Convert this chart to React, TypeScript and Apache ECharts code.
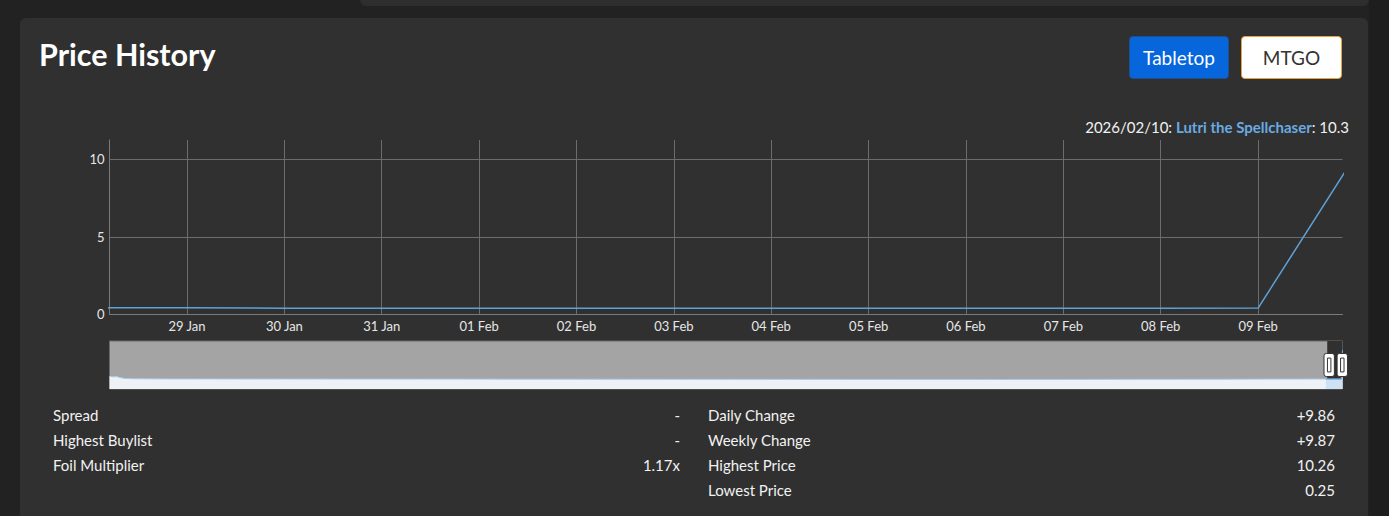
import React, { useEffect, useRef } from 'react';
import * as echarts from 'echarts';

// ---------- data ----------
const cardName = 'Lutri the Spellchaser';
const historyDates = [
  '2023-04-14', '2023-04-17', '2023-04-20', '2023-04-23', '2023-04-27', '2023-05-05',
  '2023-06-01', '2023-08-01', '2023-11-01', '2024-02-01', '2024-05-01', '2024-08-01',
  '2024-11-01', '2025-02-01', '2025-05-01', '2025-08-01', '2025-11-01', '2026-01-01',
];
const historyValues = [
  1.35, 1.15, 1.25, 0.9, 0.6, 0.5,
  0.45, 0.42, 0.4, 0.38, 0.36, 0.33,
  0.3, 0.28, 0.25, 0.3, 0.35, 0.4,
];
const recentDates = [
  '2026-01-27', '2026-01-28', '2026-01-29', '2026-01-30', '2026-01-31', '2026-02-01',
  '2026-02-02', '2026-02-03', '2026-02-04', '2026-02-05', '2026-02-06', '2026-02-07',
  '2026-02-08', '2026-02-09', '2026-02-10',
];
const recentValues = [
  0.42, 0.42, 0.42, 0.39, 0.39, 0.39,
  0.39, 0.39, 0.39, 0.39, 0.39, 0.39,
  0.39, 0.4, 10.26,
];
const windowStart = [2026, 0, 28, 4, 54];
const windowEnd = [2026, 1, 9, 20, 48];
const yTickInterval = 5;
const yMax = 11.25;
const monthNames = ['Jan', 'Feb', 'Mar', 'Apr', 'May', 'Jun', 'Jul', 'Aug', 'Sep', 'Oct', 'Nov', 'Dec'];
const statsLeft: [string, string][] = [
  ['Spread', '-'],
  ['Highest Buylist', '-'],
  ['Foil Multiplier', '1.17x'],
];
const statsRight: [string, string][] = [
  ['Daily Change', '+9.86'],
  ['Weekly Change', '+9.87'],
  ['Highest Price', '10.26'],
  ['Lowest Price', '0.25'],
];
const buttons = ['Tabletop', 'MTGO'];

// ---------- helpers ----------
const toTs = (s: string) => {
  const [y, m, d] = s.split('-').map(Number);
  return new Date(y, m - 1, d).getTime();
};
const pad = (n: number) => (n < 10 ? '0' + n : '' + n);
const FONT = 'Lato, "Noto Sans", sans-serif';

const allPoints = [
  ...historyDates.map((d, i) => [toTs(d), historyValues[i]]),
  ...recentDates.map((d, i) => [toTs(d), recentValues[i]]),
];
const recentPoints = recentDates.map((d, i) => [toTs(d), recentValues[i]]);
const ws = new Date(windowStart[0], windowStart[1], windowStart[2], windowStart[3], windowStart[4]).getTime();
const we = new Date(windowEnd[0], windowEnd[1], windowEnd[2], windowEnd[3], windowEnd[4]).getTime();
const lastDate = new Date(toTs(recentDates[recentDates.length - 1]));
const lastValue = recentValues[recentValues.length - 1];
const legendDate = `${lastDate.getFullYear()}/${pad(lastDate.getMonth() + 1)}/${pad(lastDate.getDate())}`;

const LINE = '#5fa2d8';

function Chart() {
  const ref = useRef<HTMLDivElement>(null);
  useEffect(() => {
    if (!ref.current) return;
    const chart = echarts.init(ref.current, null, { renderer: 'svg' });
    chart.setOption({
      animation: false,
      backgroundColor: 'transparent',
      textStyle: { fontFamily: FONT },
      grid: [
        { left: 109.5, top: 140, width: 1233, height: 174.3, containLabel: false },
        {
          left: 109.5, top: 341, width: 1233, height: 48, show: true,
          backgroundColor: '#a4a4a4', borderColor: '#6a6a6a', borderWidth: 1,
        },
      ],
      xAxis: [
        {
          type: 'time', gridIndex: 0, min: 'dataMin', max: 'dataMax',
          minInterval: 86400000, maxInterval: 86400000,
          axisLine: { show: true, lineStyle: { color: '#7a7a7a', width: 1 } },
          axisTick: { show: false },
          axisLabel: {
            color: '#e6e6e6', fontSize: 13, fontFamily: FONT, margin: 5,
            showMinLabel: false, showMaxLabel: false,
            formatter: (v: number) => {
              const d = new Date(v);
              if (d.getHours() !== 0 || d.getMinutes() !== 0) return '';
              return pad(d.getDate()) + ' ' + monthNames[d.getMonth()];
            },
          },
          splitLine: { show: true, showMinLine: false, showMaxLine: false, lineStyle: { color: '#6c6c6c', width: 1 } },
        },
        {
          type: 'time', gridIndex: 1, min: allPoints[0][0], max: allPoints[allPoints.length - 1][0],
          show: false,
        },
      ],
      yAxis: [
        {
          type: 'value', gridIndex: 0, min: 0, max: yMax, interval: yTickInterval,
          axisLine: { show: true, lineStyle: { color: '#7a7a7a', width: 1 } },
          axisTick: { show: false },
          axisLabel: { color: '#e6e6e6', fontSize: 13, fontFamily: FONT, margin: 5, showMaxLabel: false },
          splitLine: { show: true, showMinLine: false, showMaxLine: false, lineStyle: { color: '#6c6c6c', width: 1 } },
        },
        { type: 'value', gridIndex: 1, min: -3, max: 13.4, show: false },
      ],
      dataZoom: [
        {
          type: 'slider', xAxisIndex: 0, filterMode: 'none',
          startValue: ws, endValue: we,
          left: 109.5, width: 1233, top: 341, height: 48,
          showDataShadow: false, showDetail: false, brushSelect: false,
          backgroundColor: 'rgba(0,0,0,0)', fillerColor: 'rgba(0,0,0,0)', borderColor: 'rgba(0,0,0,0)',
          moveHandleSize: 0, moveHandleStyle: { opacity: 0 },
          handleIcon: 'path://M2,0H7A2,2,0,0,1,9,2V18A2,2,0,0,1,7,20H2A2,2,0,0,1,0,18V2A2,2,0,0,1,2,0Z M3,4H6V16H3Z',
          handleSize: '48%',
          handleStyle: { color: '#ffffff', borderColor: '#333333', borderWidth: 1 },
          emphasis: { handleStyle: { color: '#ffffff', borderColor: '#333333' } },
        },
      ],
      series: [
        {
          type: 'line', xAxisIndex: 0, yAxisIndex: 0, data: allPoints,
          showSymbol: false, symbol: 'none', clip: true,
          lineStyle: { color: LINE, width: 1.5 },
          z: 3,
        },
        {
          type: 'line', xAxisIndex: 1, yAxisIndex: 1, data: allPoints,
          showSymbol: false, symbol: 'none', silent: true,
          lineStyle: { color: '#a9c9e4', width: 1 },
          areaStyle: { color: '#eef2f7', opacity: 1, origin: 'start' },
          markArea: {
            silent: true, itemStyle: { color: '#303030' },
            data: [[{ xAxis: ws }, { xAxis: we }]],
          },
        },
        {
          type: 'line', xAxisIndex: 1, yAxisIndex: 1, data: recentPoints,
          showSymbol: false, symbol: 'none', silent: true,
          lineStyle: { color: LINE, width: 1 },
          areaStyle: { color: '#cfe2f3', opacity: 1, origin: 'start' },
        },
      ],
      graphic: [
        {
          type: 'text', right: 40, top: 119,
          style: {
            text: `{a|${legendDate}: }{b|${cardName}}{a|: ${lastValue.toFixed(1)}}`,
            rich: {
              a: { fill: '#f2f2f2', fontSize: 15, fontFamily: FONT },
              b: { fill: '#6aaae2', fontSize: 15, fontFamily: FONT, fontWeight: 'bold' },
            },
          },
        },
      ],
    });
    return () => chart.dispose();
  }, []);
  return <div ref={ref} style={{ position: 'absolute', left: 0, top: 0, width: 1389, height: 516 }} />;
}

export default function App() {
  useEffect(() => {
    document.body.style.margin = '0';
  }, []);
  const rowStyle = (top: number): React.CSSProperties => ({
    position: 'absolute', top, height: 18, lineHeight: '18px', fontSize: 15, color: '#f2f2f2',
  });
  return (
    <div style={{ position: 'fixed', left: 0, top: 0, width: 1389, height: 516, background: '#222222', overflow: 'hidden', fontFamily: FONT }}>
      <div style={{ position: 'absolute', left: 1369, top: 0, width: 20, height: 516, background: '#1e1e1e' }} />
      <div style={{ position: 'absolute', left: 360, top: -10, width: 1009, height: 16, background: '#2e2e2e', borderRadius: 6 }} />
      <div style={{ position: 'absolute', left: 20, top: 18, width: 1348, height: 520, background: '#303030', borderRadius: 6 }} />
      <div style={{ position: 'absolute', left: 39, top: 39, fontSize: 30.5, lineHeight: '30px', fontWeight: 700, color: '#ffffff' }}>Price History</div>
      <div style={{ position: 'absolute', left: 1129, top: 36, width: 100, height: 43, boxSizing: 'border-box', background: '#0766dc', borderRadius: 4, border: '1px solid #1d4f8f', color: '#fff', fontSize: 19, lineHeight: '41px', textAlign: 'center' }}>{buttons[0]}</div>
      <div style={{ position: 'absolute', left: 1241, top: 36, width: 101, height: 43, boxSizing: 'border-box', background: '#ffffff', borderRadius: 4, border: '1px solid #e8a33c', color: '#333', fontSize: 19, lineHeight: '41px', textAlign: 'center' }}>{buttons[1]}</div>
      {statsLeft.map(([k, v], i) => (
        <React.Fragment key={'l' + i}>
          <div style={{ ...rowStyle(406 + i * 25), left: 53 }}>{k}</div>
          <div style={{ ...rowStyle(406 + i * 25), right: 1389 - 680, textAlign: 'right' }}>{v}</div>
        </React.Fragment>
      ))}
      {statsRight.map(([k, v], i) => (
        <React.Fragment key={'r' + i}>
          <div style={{ ...rowStyle(406 + i * 25), left: 708 }}>{k}</div>
          <div style={{ ...rowStyle(406 + i * 25), right: 1389 - 1335, textAlign: 'right' }}>{v}</div>
        </React.Fragment>
      ))}
      <Chart />
    </div>
  );
}
